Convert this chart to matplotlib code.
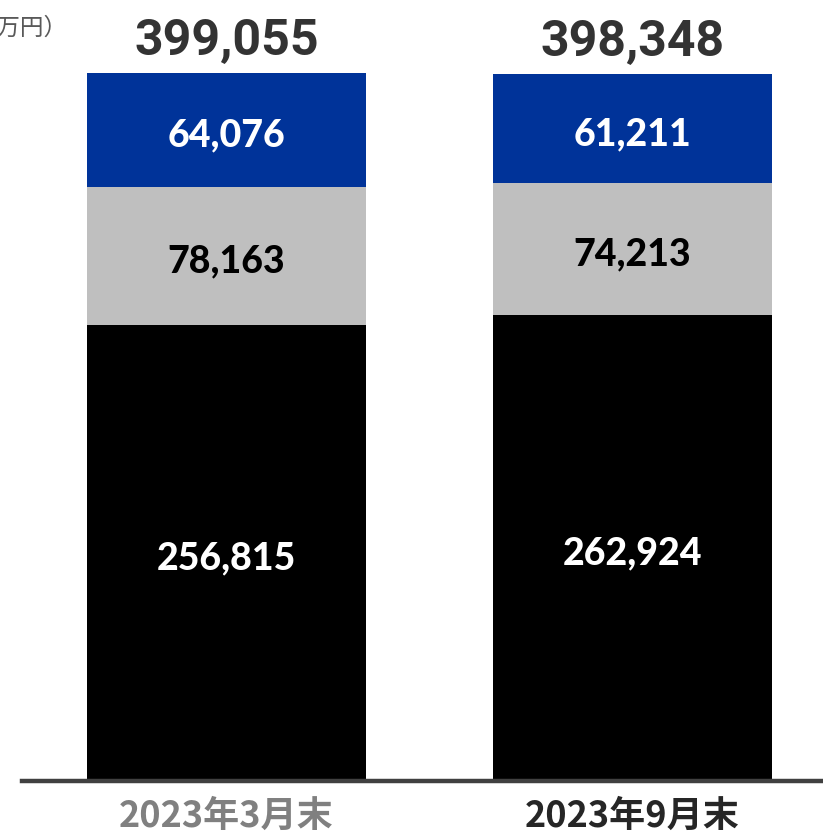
import matplotlib
matplotlib.use("Agg")
import matplotlib.pyplot as plt

plt.rcParams['font.family'] = ['Noto Sans CJK JP', 'DejaVu Sans']

categories = ["2023年3月末", "2023年9月末"]
bottom_vals = [256815, 262924]
middle_vals = [78163, 74213]
top_vals = [64076, 61211]
totals = [399055, 398348]
unit_label = "（百万円）"

W, H = 823, 836
fig = plt.figure(figsize=(W / 100, H / 100), dpi=100)
ax = fig.add_axes([22 / W, 55 / H, 801 / W, 781 / H])

x = list(range(len(categories)))
bar_w = 0.687
colors = ["#000000", "#BFBFBF", "#003399"]
label_colors = ["white", "black", "white"]

base = [0] * len(x)
for vals, col, lcol in zip([bottom_vals, middle_vals, top_vals], colors, label_colors):
    ax.bar(x, vals, width=bar_w, bottom=base, color=col, edgecolor="none")
    for xi, b, v in zip(x, base, vals):
        ax.annotate(f"{v:,}", (xi, b + v / 2), xytext=(0, -4),
                    textcoords="offset points", ha="center", va="center",
                    color=lcol, fontsize=27, fontweight=900, family="Lato")
    base = [b + v for b, v in zip(base, vals)]

for xi, t in zip(x, totals):
    ax.annotate(f"{t:,}", (xi, t), xytext=(0, 13), textcoords="offset points",
                ha="center", va="baseline", color="#333333",
                fontsize=36, fontweight="bold", family="Roboto",
                annotation_clip=False)

ax.set_xlim(-0.5037, 1.469)
ax.set_ylim(0, 399055 * 781 / 708)
for s in ["top", "right", "left"]:
    ax.spines[s].set_visible(False)
ax.spines["bottom"].set_color("#404040")
ax.spines["bottom"].set_linewidth(3.2)
ax.set_yticks([])
ax.set_xticks(x)
ax.set_xticklabels(categories, fontsize=26, fontweight="bold")
ax.tick_params(axis="x", length=0, pad=12)
for lbl, c in zip(ax.get_xticklabels(), ["#808080", "#262626"]):
    lbl.set_color(c)

fig.text(68 / W, 1 - 28 / H, unit_label, ha="right", va="center",
         color="#595959", fontsize=17)

fig.savefig("out.png", dpi=100)
